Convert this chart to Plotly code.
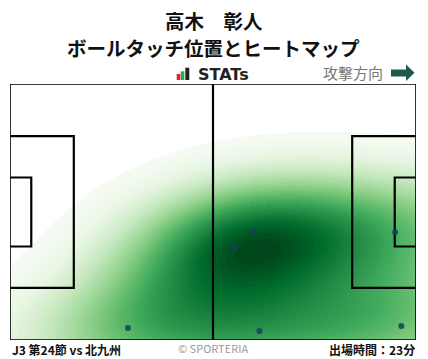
import numpy as np
import plotly.graph_objects as go

# ---------------- data ----------------
PITCH_LENGTH = 105.0
PITCH_WIDTH = 68.0
touch_x = [30.5, 62.9, 57.9, 99.6, 64.5, 101.2]   # metres from own goal line
touch_y = [64.8, 39.2, 43.6, 39.4, 65.6, 64.3]    # metres from top touchline

title_name = "高木　彰人"
title_sub = "ボールタッチ位置とヒートマップ"
match_label = "J3 第24節 vs 北九州"
minutes_label = "出場時間：23分"
copyright_label = "© SPORTERIA"
direction_label = "攻撃方向"
logo_label = "STATs"

GREENS = ["#f7fcf5", "#e5f5e0", "#c7e9c0", "#a1d99b", "#74c476",
          "#41ab5d", "#238b45", "#006d2c", "#00441b"]

# ---------------- figure geometry ----------------
W, H = 428, 359
PL, PR, PT, PB = 10, 416, 84, 340   # plot area in pixels


def px(x):
    return (x - PL) / (PR - PL)


def py(y):
    return 1 - (y - PT) / (PB - PT)


# ---------------- KDE (seaborn-like) ----------------
pts = np.vstack([touch_x, touch_y])
n = pts.shape[1]
factor = n ** (-1.0 / 6.0)
adj = np.diag([1.1, 1.2])
cov = adj @ np.cov(pts) @ adj * factor ** 2
inv = np.linalg.inv(cov)
normc = 1.0 / (2 * np.pi * np.sqrt(np.linalg.det(cov)) * n)


def kde(X, Y):
    out = np.zeros_like(X)
    for i in range(n):
        dx = X - pts[0, i]
        dy = Y - pts[1, i]
        q = inv[0, 0] * dx * dx + 2 * inv[0, 1] * dx * dy + inv[1, 1] * dy * dy
        out += np.exp(-0.5 * q)
    return out * normc


bw = np.sqrt(np.diag(cov))
sx = np.linspace(pts[0].min() - 3 * bw[0], pts[0].max() + 3 * bw[0], 200)
sy = np.linspace(pts[1].min() - 3 * bw[1], pts[1].max() + 3 * bw[1], 200)
SX, SY = np.meshgrid(sx, sy)
sup = kde(SX, SY)

thresh = 0.035
nlev = 60
iso = np.linspace(thresh, 1, nlev)
vals = np.sort(sup.ravel())[::-1]
cum = np.cumsum(vals) / vals.sum()
levels = np.take(vals, np.searchsorted(cum, 1 - iso), mode="clip")
levels = np.unique(levels)
levels[-1] = max(levels[-1], sup.max())

nx, ny = PR - PL, PB - PT
gx = (np.arange(nx) + 0.5) / nx * PITCH_LENGTH
gy = (np.arange(ny) + 0.5) / ny * PITCH_WIDTH
GX, GY = np.meshgrid(gx, gy)
dens = kde(GX, GY)
band = np.searchsorted(levels, dens, side="right") - 1
band = np.clip(band, 0, len(levels) - 2)
mids = 0.5 * (levels[:-1] + levels[1:])
cval = (mids[band] - levels[0]) / (levels[-1] - levels[0])
cval = np.where(dens < levels[0], np.nan, cval)

colorscale = [[i / (len(GREENS) - 1), c] for i, c in enumerate(GREENS)]

fig = go.Figure()
fig.add_trace(go.Heatmap(x=gx, y=gy, z=cval, colorscale=colorscale, zmin=0, zmax=1,
                         showscale=False, zsmooth=False, hoverinfo="skip"))

# ---------------- pitch lines ----------------
L, Wd = PITCH_LENGTH, PITCH_WIDTH
pb_d, pb_w = 16.5, 40.32
ga_d, ga_w = 5.5, 18.32
line_paths = [
    ([L / 2, L / 2], [0, Wd]),
    ([0, pb_d, pb_d, 0], [(Wd - pb_w) / 2, (Wd - pb_w) / 2, (Wd + pb_w) / 2, (Wd + pb_w) / 2]),
    ([0, ga_d, ga_d, 0], [(Wd - ga_w) / 2, (Wd - ga_w) / 2, (Wd + ga_w) / 2, (Wd + ga_w) / 2]),
    ([L, L - pb_d, L - pb_d, L], [(Wd - pb_w) / 2, (Wd - pb_w) / 2, (Wd + pb_w) / 2, (Wd + pb_w) / 2]),
    ([L, L - ga_d, L - ga_d, L], [(Wd - ga_w) / 2, (Wd - ga_w) / 2, (Wd + ga_w) / 2, (Wd + ga_w) / 2]),
]
for lx, ly in line_paths:
    fig.add_trace(go.Scatter(x=lx, y=ly, mode="lines", line=dict(color="black", width=2.2),
                             hoverinfo="skip", showlegend=False))
fig.add_trace(go.Scatter(x=[0, L, L, 0, 0], y=[0, 0, Wd, Wd, 0], mode="lines",
                         line=dict(color="black", width=1.6), hoverinfo="skip", showlegend=False))

fig.add_trace(go.Scatter(x=touch_x, y=touch_y, mode="markers",
                         marker=dict(color="rgb(20,65,95)", size=6, opacity=0.85),
                         hoverinfo="skip", showlegend=False))

# ---------------- header / footer ----------------
FONT = "Noto Sans CJK JP"
annotations = []
for text, yy in [(title_name, 20), (title_sub, 47)]:
    annotations.append(dict(text=f"<b>{text}</b>", xref="paper", yref="paper", x=px(213.5), y=py(yy),
                            xanchor="center", yanchor="middle", showarrow=False,
                            font=dict(family=FONT, size=19.5, color="#111")))
annotations.append(dict(text=f"<b>{logo_label}</b>", xref="paper", yref="paper", x=px(195.5), y=py(74),
                        xanchor="left", yanchor="middle", showarrow=False,
                        font=dict(family="DejaVu Sans", size=16, color="#222")))
annotations.append(dict(text=direction_label, xref="paper", yref="paper", x=px(385), y=py(72.5),
                        xanchor="right", yanchor="middle", showarrow=False,
                        font=dict(family=FONT, size=15, color="#777")))
annotations.append(dict(text=f"<b>{match_label}</b>", xref="paper", yref="paper", x=px(10), y=py(349),
                        xanchor="left", yanchor="middle", showarrow=False,
                        font=dict(family=FONT, size=12, color="#111")))
annotations.append(dict(text=copyright_label, xref="paper", yref="paper", x=px(213), y=py(348),
                        xanchor="center", yanchor="middle", showarrow=False,
                        font=dict(family=FONT, size=11, color="#999")))
annotations.append(dict(text=f"<b>{minutes_label}</b>", xref="paper", yref="paper", x=px(417), y=py(349),
                        xanchor="right", yanchor="middle", showarrow=False,
                        font=dict(family=FONT, size=12, color="#111")))

shapes = []
# STATs icon bars
for (x0, x1, y0, c) in [(176.7, 180.3, 74, "#e8262b"), (180.7, 184.3, 71.3, "#2eaa48"), (185.3, 189.3, 67.7, "#222")]:
    shapes.append(dict(type="rect", xref="paper", yref="paper", x0=px(x0), x1=px(x1),
                       y0=py(80), y1=py(y0), fillcolor=c, line=dict(width=0)))
# direction arrow
ax = [391, 406, 406, 414.5, 406, 406, 391]
ay = [69.5, 69.5, 64.5, 72.7, 81, 76.5, 76.5]
path = "M " + " L ".join(f"{px(a):.5f},{py(b):.5f}" for a, b in zip(ax, ay)) + " Z"
shapes.append(dict(type="path", xref="paper", yref="paper", path=path,
                   fillcolor="#1d5a4e", line=dict(width=0)))

fig.update_layout(
    width=W, height=H,
    margin=dict(l=PL, r=W - PR, t=PT, b=H - PB, pad=0),
    paper_bgcolor="white", plot_bgcolor="white",
    xaxis=dict(range=[0, L], visible=False, fixedrange=True),
    yaxis=dict(range=[Wd, 0], visible=False, fixedrange=True),
    annotations=annotations, shapes=shapes,
    showlegend=False,
)
fig.write_html("out.html", config={"displayModeBar": False})
